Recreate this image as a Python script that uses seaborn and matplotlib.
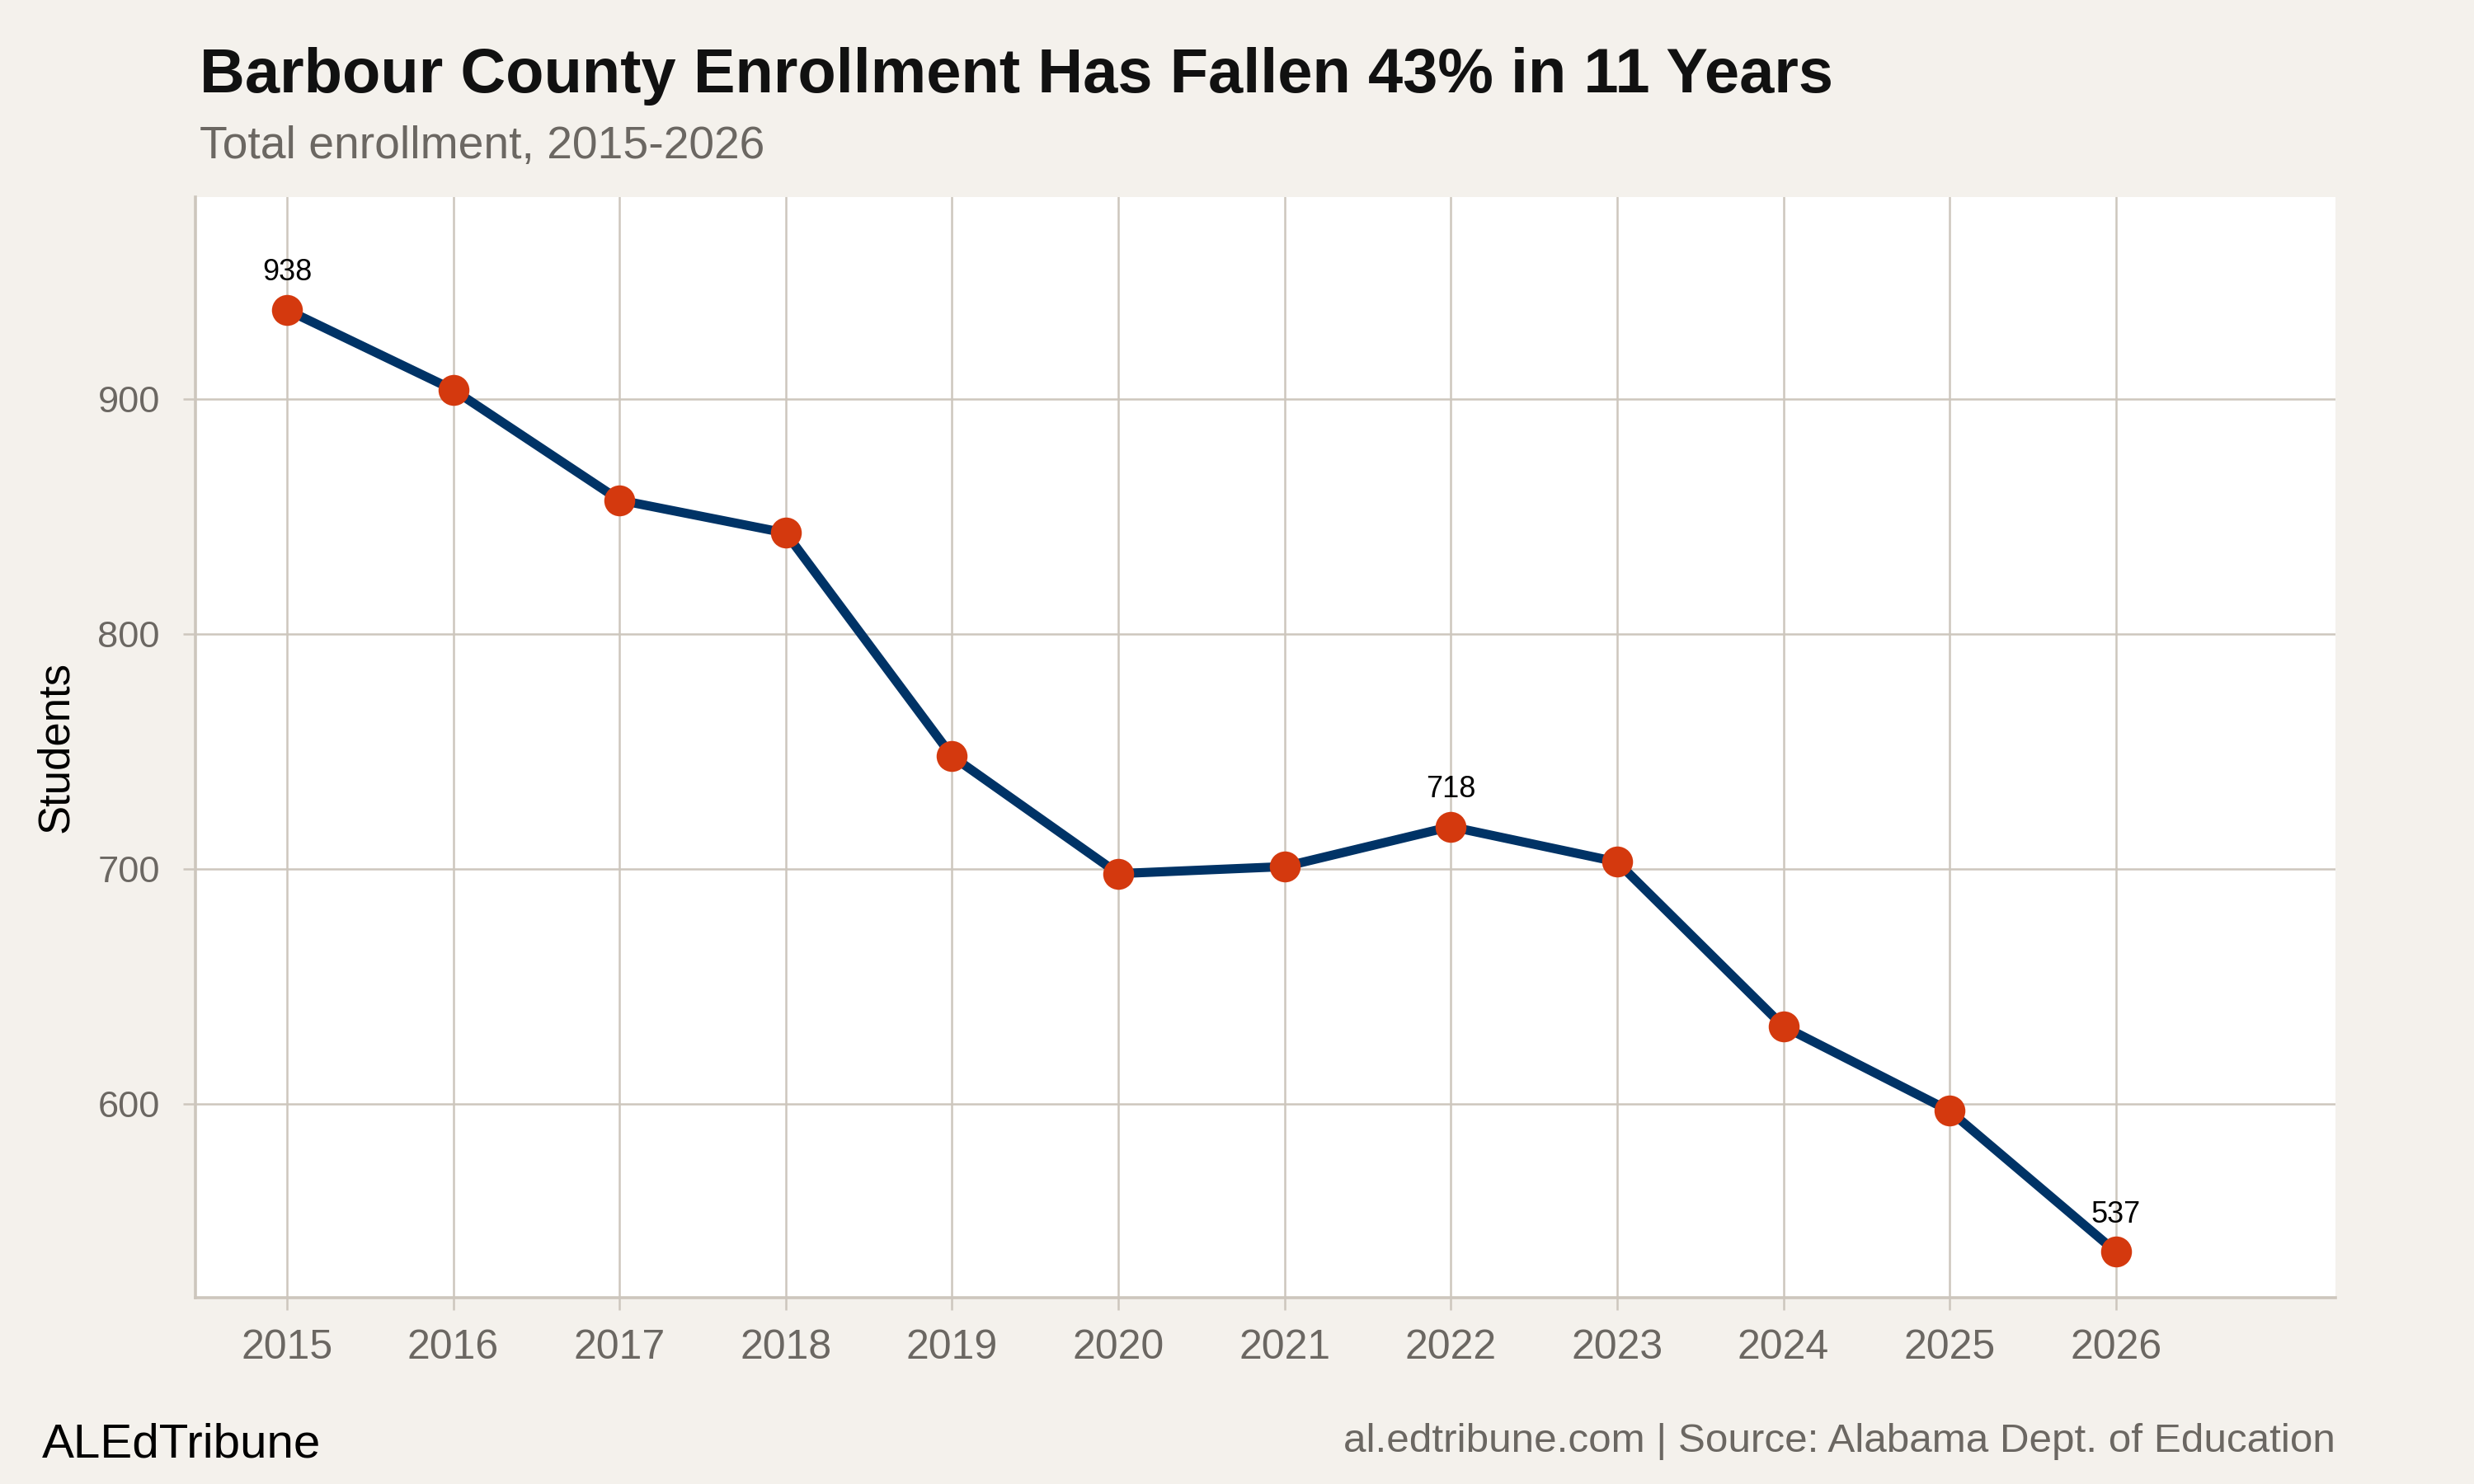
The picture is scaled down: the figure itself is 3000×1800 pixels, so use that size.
import matplotlib
matplotlib.use("Agg")
import matplotlib.pyplot as plt
import seaborn as sns
import pandas as pd

years = [2015, 2016, 2017, 2018, 2019, 2020, 2021, 2022, 2023, 2024, 2025, 2026]
students = [938, 904, 857, 843, 748, 698, 701, 718, 703, 633, 597, 537]
labeled_years = [2015, 2022, 2026]
y_ticks = [600, 700, 800, 900]

title = "Barbour County Enrollment Has Fallen 43% in 11 Years"
subtitle = "Total enrollment, 2015-2026"
ylabel = "Students"
brand = "ALEdTribune"
source = "al.edtribune.com | Source: Alabama Dept. of Education"

BG = "#f4f1ec"
GRID = "#cdc6bd"
LINE = "#003366"
MARK = "#d4390e"
GRAY = "#6b6762"

sns.set_theme(style="white")
plt.rcParams["font.family"] = ["Liberation Sans", "DejaVu Sans"]

df = pd.DataFrame({"year": years, "students": students})

fig = plt.figure(figsize=(15, 9), dpi=200, facecolor=BG)
ax = fig.add_axes([237/3000, 1 - 1574/1800, (2832-237)/3000, (1574-239)/1800])
ax.set_facecolor("white")

sns.lineplot(data=df, x="year", y="students", ax=ax, color=LINE, linewidth=4,
             marker="o", markersize=13.5, markerfacecolor=MARK, markeredgecolor=MARK,
             markeredgewidth=0, zorder=3)

for yr, v in zip(years, students):
    if yr in labeled_years:
        ax.annotate(str(v), (yr, v), xytext=(0, 10), textcoords="offset points",
                    ha="center", va="bottom", fontsize=13, color="black", zorder=4)

ax.set_xlim(2014.45, 2027.32)
ax.set_ylim(517.5, 986)
ax.set_xticks(years)
ax.set_xticklabels([str(y) for y in years])
ax.set_yticks(y_ticks)
ax.grid(True, color=GRID, linewidth=0.9)
ax.set_axisbelow(True)

for s in ["top", "right"]:
    ax.spines[s].set_visible(False)
for s in ["left", "bottom"]:
    ax.spines[s].set_color(GRID)
    ax.spines[s].set_linewidth(1.3)

ax.tick_params(axis="both", which="both", length=5.5, width=0.9, color=GRID,
               labelcolor=GRAY, bottom=True, left=True)
ax.tick_params(axis="x", labelsize=18, pad=8)
ax.tick_params(axis="y", labelsize=16.3, pad=10)
ax.set_xlabel("")
ax.set_ylabel(ylabel, fontsize=19, color="black", labelpad=9)

fig.text(242/3000, 1 - 112/1800, title, fontsize=27.3, fontweight="bold",
         color="#111111", ha="left", va="baseline")
fig.text(242/3000, 1 - 192/1800, subtitle, fontsize=19.9, color=GRAY,
         ha="left", va="baseline")
fig.text(51/3000, 1 - 1767/1800, brand, fontsize=21, color="black",
         ha="left", va="baseline")
fig.text(2832/3000, 1 - 1761/1800, source, fontsize=17.8, color=GRAY,
         ha="right", va="baseline")

fig.savefig("out.png", dpi=200, facecolor=BG)
